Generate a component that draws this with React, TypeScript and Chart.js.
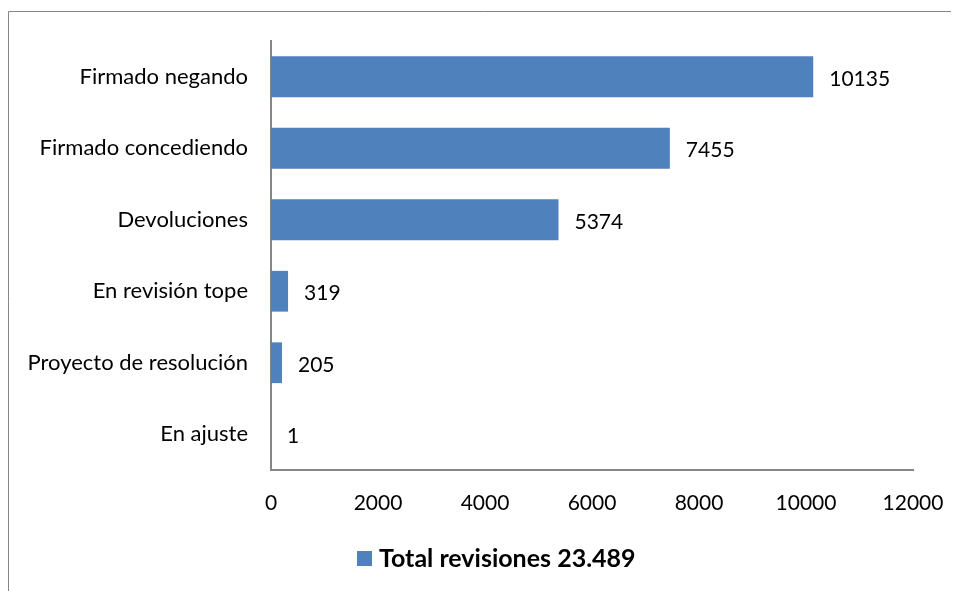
import React, { useEffect, useRef } from "react";
import { Chart, registerables } from "chart.js";

Chart.register(...registerables);

const categories = [
  "Firmado negando",
  "Firmado concediendo",
  "Devoluciones",
  "En revisión tope",
  "Proyecto de resolución",
  "En ajuste",
];
const values = [10135, 7455, 5374, 319, 205, 1];
const seriesLabel = "Total revisiones 23.489";
const xMax = 12000;
const xStep = 2000;

const FONT = "Lato, 'Open Sans', sans-serif";
const BAR = "#4F81BD";
const AXIS = "#868686";

export default function App() {
  const ref = useRef<HTMLCanvasElement | null>(null);
  useEffect(() => {
    document.body.style.overflow = "hidden";
    const canvas = ref.current;
    if (!canvas) return;
    const extras = {
      id: "extras",
      afterDraw(chart: any) {
        const ctx = chart.ctx;
        ctx.save();
        // outer frame
        ctx.strokeStyle = AXIS;
        ctx.lineWidth = 1;
        ctx.beginPath();
        ctx.moveTo(0.5, chart.height + 10);
        ctx.lineTo(0.5, 3.5);
        ctx.lineTo(chart.width + 10, 3.5);
        ctx.stroke();
        // data labels
        const meta = chart.getDatasetMeta(0);
        ctx.fillStyle = "#000";
        ctx.font = `21px ${FONT}`;
        ctx.textAlign = "left";
        ctx.textBaseline = "middle";
        meta.data.forEach((el: any, i: number) => {
          ctx.fillText(String(values[i]), el.x + 16, el.y + 2);
        });
        // legend
        const lx = 349;
        const ly = 550;
        ctx.fillStyle = BAR;
        ctx.fillRect(lx, ly - 7, 15, 15);
        ctx.fillStyle = "#000";
        ctx.font = `bold 25px ${FONT}`;
        ctx.fillText(seriesLabel, lx + 22, ly + 1);
        ctx.restore();
      },
    };
    const chart = new Chart(canvas, {
      type: "bar",
      data: {
        labels: categories,
        datasets: [
          {
            label: seriesLabel,
            data: values,
            backgroundColor: BAR,
            borderWidth: 0,
            barPercentage: 0.57,
            categoryPercentage: 1,
          },
        ],
      },
      options: {
        indexAxis: "y",
        responsive: false,
        animation: false,
        layout: { padding: { top: 33, right: 46, bottom: 0, left: 0 } },
        plugins: {
          legend: { display: false },
          tooltip: { enabled: false },
          title: { display: false },
        },
        scales: {
          x: {
            min: 0,
            max: xMax,
            ticks: {
              stepSize: xStep,
              padding: 21,
              color: "#000",
              font: { family: FONT, size: 21 },
              callback: (v: any) => String(v),
            },
            grid: { display: false, drawTicks: false },
            border: { display: true, color: AXIS, width: 2 },
            afterFit(scale: any) {
              scale.height = 121;
              scale.paddingLeft = 0;
              scale.paddingRight = 0;
            },
          },
          y: {
            ticks: {
              padding: 23,
              color: "#000",
              font: { family: FONT, size: 22 },
            },
            grid: { display: false, drawTicks: false },
            border: { display: true, color: AXIS, width: 2 },
            afterFit(scale: any) {
              scale.width = 263;
              scale.paddingTop = 0;
              scale.paddingBottom = 0;
            },
          },
        },
      },
      plugins: [extras],
    });
    return () => chart.destroy();
  }, []);
  return (
    <canvas
      ref={ref}
      width={951}
      height={583}
      style={{ display: "block", width: 951, height: 583 }}
    />
  );
}
